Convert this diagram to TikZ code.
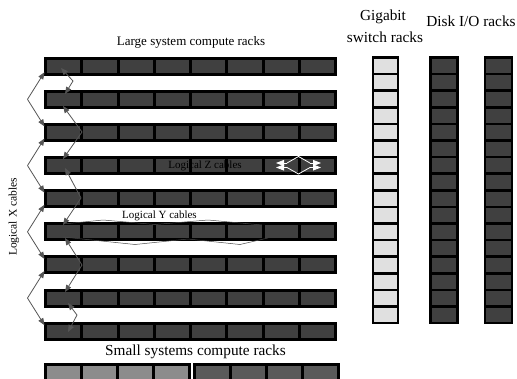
\documentclass[tikz,border=0pt]{standalone}
\usepackage{fontspec}
\setmainfont{Liberation Serif}
\usetikzlibrary{arrows.meta,calc}
\definecolor{rackfill}{HTML}{404040}
\definecolor{gigfill}{HTML}{E0E0E0}
\definecolor{smallA}{HTML}{8C8C8C}
\definecolor{smallB}{HTML}{5A5A5A}
\definecolor{cablegray}{HTML}{555555}
\definecolor{ygray}{HTML}{4A4A4A}
\begin{document}
\begin{tikzpicture}[x=1pt,y=-1pt,
  rackcell/.style={draw=black, line width=3pt, fill=rackfill, minimum width=36.25pt, minimum height=16pt, inner sep=0pt, outer sep=0pt, anchor=north west},
  vcell/.style={draw=black, line width=2.6pt, minimum height=16.6pt, inner sep=0pt, outer sep=0pt, anchor=north},
  gigcell/.style={vcell, fill=gigfill, minimum width=25pt},
  diskcell/.style={vcell, fill=rackfill, minimum width=27pt},
  smallcell/.style={draw=black, line width=3pt, minimum width=36pt, minimum height=16pt, inner sep=0pt, outer sep=0pt, anchor=north west},
  bigtext/.style={font=\fontsize{15.3}{17}\selectfont, inner sep=0pt},
  midtext/.style={font=\fontsize{13}{15}\selectfont, inner sep=0pt},
  xtext/.style={font=\fontsize{11.5}{13}\selectfont, inner sep=0pt},
  smalltext/.style={font=\fontsize{11}{13}\selectfont, inner sep=0pt},
  xcable/.style={draw=cablegray, line width=0.8pt, -{Triangle[length=7pt,width=5.5pt]}},
  ycable/.style={draw=ygray, line width=0.5pt},
  zcable/.style={draw=white, line width=0.8pt, -{Triangle[length=8pt,width=6pt]}}
]
\useasboundingbox (0,0) rectangle (517,378);
\clip (0,0) rectangle (517,378);

% large system compute racks
\foreach \i in {1,...,9}{
  \foreach \j in {1,...,8}{
    \node[rackcell] (r\i-\j) at ({45.5+36.25*(\j-1)}, {58.2+33.125*(\i-1)}) {};
  }
}

% gigabit switch rack and disk racks
\foreach \k in {1,...,16}{
  \node[gigcell] (g\k) at (385.5, {57.5+16.6*(\k-1)}) {};
  \node[diskcell] (d\k) at (443.8, {57.5+16.6*(\k-1)}) {};
  \node[diskcell] (e\k) at (498.3, {57.5+16.6*(\k-1)}) {};
}

% small systems compute racks
\foreach \j in {1,...,4}{
  \node[smallcell, fill=smallA] (s\j) at ({45.5+36*(\j-1)}, 364.5) {};
}
\foreach \j in {5,...,8}{
  \node[smallcell, fill=smallB] (s\j) at ({194.8+36*(\j-5)}, 364.5) {};
}

% labels
\node[midtext] (large) at (191,42) {Large system compute racks};
\node[bigtext] (gig1) at (383,17) {Gigabit};
\node[bigtext] (gig2) at (385,37) {switch racks};
\node[bigtext] (disk) at (471,21) {Disk I/O racks};
\node[bigtext] (small) at (195.5,352) {Small systems compute racks};
\node[smalltext] (ylab) at (159.5,216) {Logical Y cables};
\node[smalltext] (zlab) at (205,166) {Logical Z cables};
\node[xtext, rotate=90] (xlab) at (14,217) {Logical X cables};

% logical X cables, outer set
\foreach \k/\u/\l in {1/1/3, 2/3/5, 3/5/7, 4/7/9}{
  \coordinate (xv\k) at ($(r\u-1.south west)!0.5!(r\l-1.north west) + (-18,0)$);
  \draw[xcable] (xv\k) -- ($(r\u-1.south west)+(-1,-2)$);
  \draw[xcable] (xv\k) -- ($(r\l-1.north west)+(-1,2)$);
}

% logical X cables, inner set
\coordinate (iv1) at (73,81);
\coordinate (iv2) at (82,132);
\coordinate (iv3) at (81,198);
\coordinate (iv4) at (82,265);
\coordinate (iv5) at (77,315);
\coordinate (it1a) at (61,68);  \coordinate (it1b) at (65,94);
\coordinate (it2a) at (63,106); \coordinate (it2b) at (63,159);
\coordinate (it3a) at (65,168); \coordinate (it3b) at (63,225);
\coordinate (it4a) at (65,238); \coordinate (it4b) at (65,292);
\coordinate (it5a) at (68,303); \coordinate (it5b) at (68,332);
\foreach \k in {1,...,5}{
  \draw[xcable] (iv\k) -- (it\k a);
  \draw[xcable] (iv\k) -- (it\k b);
}

% logical Y cables
\coordinate (y0) at (63,224);
\coordinate (y1) at (103,220);
\coordinate (y2) at (155,224.5);
\coordinate (y3) at (208,220);
\coordinate (y4) at (262,225);
\coordinate (w0) at (63,237);
\coordinate (w1) at (135,244.5);
\coordinate (w2) at (188,239);
\coordinate (w3) at (240,244.5);
\coordinate (w4) at (268,238);
\draw[ycable] (y0) -- (y1) -- (y2) -- (y3) -- (y4);
\draw[ycable] (w0) -- (w1) -- (w2) -- (w3) -- (w4);

% logical Z cables
\coordinate (zt) at (298.5,156.5);
\coordinate (zb) at (298.5,174);
\coordinate (zlt) at (287,163);
\coordinate (zrt) at (310,163);
\coordinate (zlb) at (287,167.5);
\coordinate (zrb) at (310,167.5);
\coordinate (zl1) at (276,163);
\coordinate (zr1) at (321,163);
\coordinate (zl2) at (276,167.5);
\coordinate (zr2) at (321,167.5);
\draw[draw=white, line width=0.8pt] (zlt) -- (zt) -- (zrt);
\draw[draw=white, line width=0.8pt] (zlb) -- (zb) -- (zrb);
\draw[zcable] (zlt) -- (zl1);
\draw[zcable] (zrt) -- (zr1);
\draw[zcable] (zlb) -- (zl2);
\draw[zcable] (zrb) -- (zr2);
\end{tikzpicture}
\end{document}
